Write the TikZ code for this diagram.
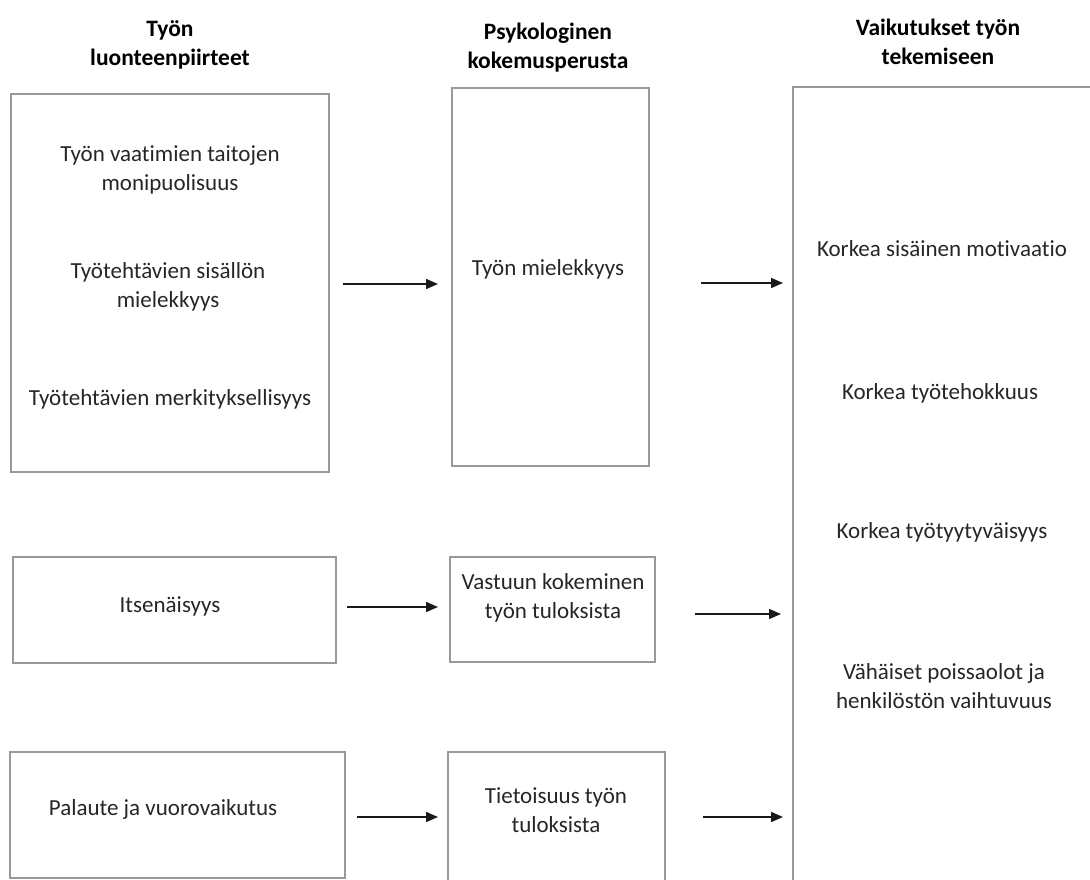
\documentclass[tikz,border=0pt]{standalone}
\usepackage{fontspec}
\setmainfont{Carlito}[Ligatures=NoCommon]
\usetikzlibrary{arrows.meta}
\begin{document}
\begin{tikzpicture}[x=1pt,y=-1pt,
  box/.style={draw=black!40, line width=1.3pt},
  lbl/.style={font=\fontsize{23}{29}\selectfont, text=black!85, align=center, inner sep=0pt},
  head/.style={font=\bfseries\fontsize{23.5}{29}\selectfont, align=center, inner sep=0pt},
  arr/.style={line width=1.6pt, black!90, -{Triangle[length=12pt,width=10pt]}}]
\useasboundingbox (0,0) rectangle (1090,880);
\clip (0,0) rectangle (1090,880);
% headers
\node[head] (h1) at (170,45) {Työn\\luonteenpiirteet};
\node[head] (h2) at (548,48) {Psykologinen\\kokemusperusta};
\node[head] (h3) at (938,42) {Vaikutukset työn\\tekemiseen};
% boxes
\draw[box] (11,94) rectangle (329,472);
\draw[box] (452,88) rectangle (649,466);
\draw[box] (793,87) rectangle (1100,900);
\draw[box] (13,557) rectangle (336,663);
\draw[box] (450,557) rectangle (655,662);
\draw[box] (10,752) rectangle (345,878);
\draw[box] (448,752) rectangle (665,900);
% texts
\node[lbl] (t1) at (170,170) {Työn vaatimien taitojen\\monipuolisuus};
\node[lbl] (t2) at (168,287) {Työtehtävien sisällön\\mielekkyys};
\node[lbl] (t3) at (170,399) {Työtehtävien merkityksellisyys};
\node[lbl] (t4) at (548,269) {Työn mielekkyys};
\node[lbl] (t5) at (942,249) {Korkea sisäinen motivaatio};
\node[lbl] (t6) at (940,393) {Korkea työtehokkuus};
\node[lbl] (t7) at (942,532) {Korkea työtyytyväisyys};
\node[lbl] (t8) at (944,686) {Vähäiset poissaolot ja\\henkilöstön vaihtuvuus};
\node[lbl] (t9) at (170,606) {Itsenäisyys};
\node[lbl] (t10) at (553,598) {Vastuun kokeminen\\työn tuloksista};
\node[lbl] (t11) at (163,809) {Palaute ja vuorovaikutus};
\node[lbl] (t12) at (556,810) {Tietoisuus työn\\tuloksista};
% arrow endpoints
\coordinate (a1s) at (343,284); \coordinate (a1e) at (438,284);
\coordinate (a2s) at (701,283); \coordinate (a2e) at (783,283);
\coordinate (a3s) at (347,607); \coordinate (a3e) at (438,607);
\coordinate (a4s) at (695,614); \coordinate (a4e) at (781,614);
\coordinate (a5s) at (357,817); \coordinate (a5e) at (438,817);
\coordinate (a6s) at (703,817); \coordinate (a6e) at (783,817);
\draw[arr] (a1s) -- (a1e);
\draw[arr] (a2s) -- (a2e);
\draw[arr] (a3s) -- (a3e);
\draw[arr] (a4s) -- (a4e);
\draw[arr] (a5s) -- (a5e);
\draw[arr] (a6s) -- (a6e);
\end{tikzpicture}
\end{document}
